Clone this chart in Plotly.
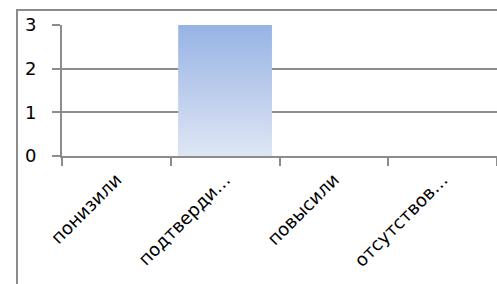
import plotly.graph_objects as go

categories = ["понизили", "подтверди…", "повысили", "отсутствов…"]
values = [0, 3, 0, 0]
y_ticks = [0, 1, 2, 3]

BAR_W = 0.86
GRID = "#8c8c8c"
FONT = "DejaVu Sans"

fig = go.Figure()

# base bar (categorical axis)
fig.add_trace(go.Bar(
    x=categories, y=values, width=BAR_W,
    marker=dict(color="#bccced", line=dict(width=0)),
    hoverinfo="skip", showlegend=False,
))

# gradient overlay on a numeric twin axis, built from the same data
for i, v in enumerate(values):
    if v <= 0:
        continue
    xs = [i - BAR_W / 2, i - BAR_W / 2, i + BAR_W / 2, i + BAR_W / 2, i - BAR_W / 2]
    ys = [0, v, v, 0, 0]
    fig.add_trace(go.Scatter(
        x=xs, y=ys, xaxis="x2", mode="lines", line=dict(width=0),
        fill="toself",
        fillgradient=dict(type="vertical",
                          colorscale=[[0, "#dfe6f4"], [1, "#97b3e4"]]),
        hoverinfo="skip", showlegend=False,
    ))

W, H = 497, 284
ml, mr, mt, mb = 62, 0, 25, 128
pw, ph = W - ml - mr, H - mt - mb

fig.update_layout(
    width=W, height=H,
    margin=dict(l=ml, r=mr, t=mt, b=mb, pad=0, autoexpand=False),
    paper_bgcolor="white", plot_bgcolor="white",
    font=dict(family=FONT, size=18, color="#000000"),
    bargap=1 - BAR_W,
    xaxis=dict(
        type="category", range=[-0.5, 3.5], automargin=False,
        tickson="boundaries", ticks="outside", ticklen=8, tickwidth=2,
        tickcolor=GRID, tickangle=-45, showline=True, linecolor=GRID,
        linewidth=2, showgrid=False, zeroline=False, ticklabelstandoff=4,
        tickfont=dict(family=FONT, size=18),
    ),
    xaxis2=dict(
        overlaying="x", range=[-0.5, 3.5], visible=False, fixedrange=True,
    ),
    yaxis=dict(
        range=[0, 3], tickvals=y_ticks, ticks="outside", ticklen=8,
        tickwidth=2, tickcolor=GRID, showline=True, linecolor=GRID,
        linewidth=2, showgrid=True, gridcolor=GRID, gridwidth=2,
        zeroline=False, ticklabelstandoff=12, automargin=False,
        tickfont=dict(family=FONT, size=18),
    ),
)

# outer chart frame (extends beyond the visible window on right/bottom)
fig.add_shape(
    type="rect", xref="paper", yref="paper",
    x0=(17 - ml) / pw, x1=1.1, y0=-1.5, y1=1 + (mt - 10) / ph,
    line=dict(color="#8c8c8c", width=2), layer="below",
)

fig.write_html(
    "out.html",
    config={"displayModeBar": False, "staticPlot": True},
    post_script="document.body.style.margin='0';document.body.style.overflow='hidden';",
)
